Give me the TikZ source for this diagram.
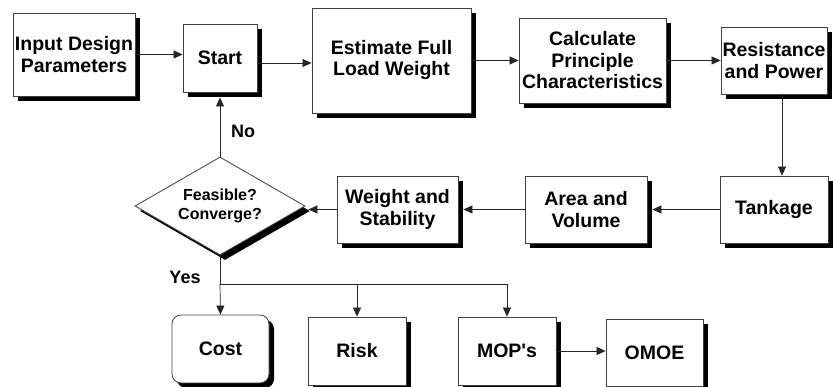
\documentclass[tikz,border=0pt]{standalone}
\usepackage{fontspec}
\setmainfont{Liberation Sans}[Ligatures=TeXOff]
\usetikzlibrary{shapes.geometric,shadows,arrows.meta}
\begin{document}
\begin{tikzpicture}[x=1pt,y=-1pt,
  box/.style={draw=black!75, line width=0.8pt, fill=white,
    drop shadow={shadow xshift=5pt,shadow yshift=-5pt,fill=black,opacity=1},
    align=center, inner sep=0pt, text=black,
    font=\fontsize{19.5}{21.5}\selectfont\bfseries},
  conn/.style={draw=black!85, line width=0.7pt},
  arr/.style={conn, -{Triangle[length=9pt,width=8pt]}},
  lbl/.style={font=\fontsize{18}{20}\selectfont\bfseries}]
\useasboundingbox (0,0) rectangle (833,387);

\node[box, minimum width=122pt, minimum height=83pt] (inp) at (74,54.5) {Input Design\\Parameters};
\node[box, minimum width=74pt, minimum height=68pt] (start) at (220,58) {Start};
\node[box, minimum width=159pt, minimum height=105pt] (est) at (391.5,60.5)
  {\raisebox{-9pt}{\begin{tabular}{@{}c@{}}Estimate Full\\Load Weight\end{tabular}}};
\node[box, minimum width=147pt, minimum height=85pt] (calc) at (592.5,60.5) {Calculate\\Principle\\Characteristics};
\node[box, minimum width=106pt, minimum height=67pt] (res) at (774,60.5) {Resistance\\and Power};
\node[box, minimum width=108pt, minimum height=67pt] (tank) at (774,209.5) {Tankage};
\node[box, minimum width=122pt, minimum height=67pt] (area) at (586,209.5) {Area and\\Volume};
\node[box, minimum width=121pt, minimum height=67pt] (wgt) at (397.5,209.5) {Weight and\\Stability};
\node[box, diamond, aspect=1.73, minimum width=170pt, minimum height=98pt,
  font=\fontsize{16}{19.5}\selectfont\bfseries] (dia) at (220,206) {Feasible?\\Converge?};
\node[box, rounded corners=9pt, minimum width=97pt, minimum height=68pt] (cost) at (220.5,349) {Cost};
\node[box, minimum width=98pt, minimum height=68pt] (risk) at (357,351) {Risk};
\node[box, minimum width=98pt, minimum height=68pt] (mop) at (507,351) {MOP's};
\node[box, minimum width=97pt, minimum height=67pt] (omoe) at (654.5,352.5) {OMOE};

\coordinate (bus) at (0,284);

\draw[arr] (inp.east) -- (inp.east -| start.west);
\draw[arr] ([yshift=-5pt]start.east) -- ([yshift=-5pt]start.east -| est.west);
\draw[arr] (est.east) -- (est.east -| calc.west);
\draw[arr] (calc.east) -- (calc.east -| res.west);
\draw[arr] ([xshift=8pt]res.south) -- ([xshift=8pt]tank.north);
\draw[arr] (tank.west) -- ([xshift=5pt]tank.west -| area.east);
\draw[arr] (area.west) -- ([xshift=5pt]area.west -| wgt.east);
\draw[arr] (wgt.west) -- ([xshift=3pt]wgt.west -| dia.east);
\draw[arr] (dia.north) -- ([yshift=-5pt]start.south);
\draw[conn] (dia.south) -- (dia.south |- bus) -- (mop.north |- bus);
\draw[arr] (dia.south |- bus) -- (cost.north);
\draw[arr] (risk.north |- bus) -- (risk.north);
\draw[arr] (mop.north |- bus) -- (mop.north);
\draw[arr] (mop.east) -- (mop.east -| omoe.west);

\node[lbl] (no) at (243,131) {No};
\node[lbl] (yes) at (185,277) {Yes};
\end{tikzpicture}
\end{document}
